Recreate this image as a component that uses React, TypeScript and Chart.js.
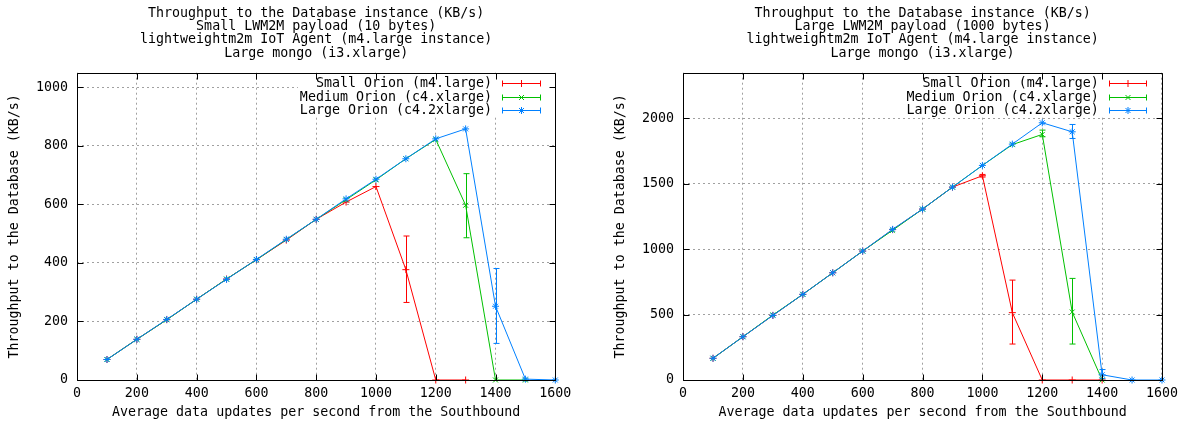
import React, { useEffect, useRef } from 'react';
import { Chart, registerables } from 'chart.js';
import { drawPoint } from 'chart.js/helpers';

Chart.register(...registerables);

const FONT = '"DejaVu Sans Mono", "Liberation Mono", monospace';
const FS = 13.3;

// ---------- data ----------
const xUpdates = [100, 200, 300, 400, 500, 600, 700, 800, 900, 1000, 1100, 1200, 1300, 1400, 1500, 1600];
const xTicks = [0, 200, 400, 600, 800, 1000, 1200, 1400, 1600];

const seriesLabels = ['Small Orion (m4.large)', 'Medium Orion (c4.xlarge)', 'Large Orion (c4.2xlarge)'];
const seriesColors = ['#ff0000', '#00c000', '#0080ff'];
const seriesMarkers = ['cross', 'crossRot', 'star'];

// Left chart: small payload (10 bytes)
const smallTitle = [
  'Throughput to the Database instance (KB/s)',
  'Small LWM2M payload (10 bytes)',
  'lightweightm2m IoT Agent (m4.large instance)',
  'Large mongo (i3.xlarge)',
];
const smallYTicks = [0, 200, 400, 600, 800, 1000];
const smallYMax = 1050;
const smallSmallOrion = [70, 139, 206, 276, 345, 411, 478, 549, 608, 661, 377, 0, 0];
const smallMediumOrion = [70, 139, 206, 276, 345, 411, 480, 549, 616, 684, 756, 822, 597, 0, 0];
const smallLargeOrion = [70, 139, 207, 276, 344, 412, 481, 549, 619, 686, 756, 824, 858, 252, 3, 0];
// error bars: [x, low, high]
const smallSmallOrionErr = [[1100, 265, 492]];
const smallMediumOrionErr = [[1300, 486, 705]];
const smallLargeOrionErr = [[1400, 125, 381]];

// Right chart: large payload (1000 bytes)
const largeTitle = [
  'Throughput to the Database instance (KB/s)',
  'Large LWM2M payload (1000 bytes)',
  'lightweightm2m IoT Agent (m4.large instance)',
  'Large mongo (i3.xlarge)',
];
const largeYTicks = [0, 500, 1000, 1500, 2000];
const largeYMax = 2350;
const largeSmallOrion = [166, 331, 494, 655, 820, 986, 1150, 1307, 1475, 1562, 515, 0, 0, 0];
const largeMediumOrion = [166, 331, 497, 655, 820, 986, 1145, 1307, 1475, 1641, 1800, 1878, 520, 0];
const largeLargeOrion = [166, 331, 494, 655, 820, 986, 1152, 1307, 1475, 1641, 1804, 1967, 1898, 40, 0, 0];
const largeSmallOrionErr = [[1000, 1552, 1572], [1100, 275, 764]];
const largeMediumOrionErr = [[1200, 1860, 1911], [1300, 275, 777]];
const largeLargeOrionErr = [[1300, 1847, 1954], [1400, 10, 80]];

const xAxisTitle = 'Average data updates per second from the Southbound';
const yAxisTitle = 'Throughput to the Database (KB/s)';

// ---------- plugins ----------
const keyBoxPlugin = {
  id: 'gpKeyBox',
  beforeDatasetsDraw(chart: any) {
    const { ctx, chartArea } = chart;
    ctx.save();
    ctx.font = `${FS}px ${FONT}`;
    let w = 0;
    chart.data.datasets.forEach((ds: any) => { w = Math.max(w, ctx.measureText(ds.label).width); });
    const left = chartArea.right - 63.3 - w - 2;
    ctx.fillStyle = '#ffffff';
    ctx.fillRect(left, chartArea.top + 1, chartArea.right - left - 1, 43);
    ctx.restore();
  },
};

const errorBarPlugin = {
  id: 'gpErrorBars',
  afterDatasetsDraw(chart: any) {
    const { ctx } = chart;
    const xs = chart.scales.x, ys = chart.scales.y;
    ctx.save();
    ctx.lineWidth = 1;
    chart.data.datasets.forEach((ds: any) => {
      ctx.strokeStyle = ds.borderColor;
      (ds.errorBars || []).forEach((e: number[]) => {
        const px = Math.round(xs.getPixelForValue(e[0])) + 0.5;
        const lo = ys.getPixelForValue(e[1]);
        const hi = ys.getPixelForValue(e[2]);
        ctx.beginPath();
        ctx.moveTo(px, lo); ctx.lineTo(px, hi);
        ctx.moveTo(px - 3, lo); ctx.lineTo(px + 3, lo);
        ctx.moveTo(px - 3, hi); ctx.lineTo(px + 3, hi);
        ctx.stroke();
      });
    });
    ctx.restore();
  },
};

const frameAndKeyPlugin = {
  id: 'gpFrameKey',
  afterDatasetsDraw(chart: any) {
    const { ctx, chartArea } = chart;
    const xs = chart.scales.x, ys = chart.scales.y;
    const L = Math.round(chartArea.left) + 0.5, R = Math.round(chartArea.right) + 0.5;
    const T = Math.round(chartArea.top) + 0.5, B = Math.round(chartArea.bottom) + 0.5;
    ctx.save();
    // key
    ctx.font = `${FS}px ${FONT}`;
    ctx.textAlign = 'right';
    ctx.textBaseline = 'middle';
    chart.data.datasets.forEach((ds: any, i: number) => {
      const y = Math.round(chartArea.top + 10.6 + i * 13.3) + 0.5;
      ctx.fillStyle = '#000';
      ctx.fillText(ds.label, chartArea.right - 63.3, y);
      const x0 = Math.round(chartArea.right - 53.3) + 0.5, x1 = Math.round(chartArea.right - 15.7) + 0.5;
      ctx.strokeStyle = ds.borderColor;
      ctx.lineWidth = 1;
      ctx.beginPath();
      ctx.moveTo(x0, y); ctx.lineTo(x1, y);
      ctx.moveTo(x0, y - 3); ctx.lineTo(x0, y + 3);
      ctx.moveTo(x1, y - 3); ctx.lineTo(x1, y + 3);
      ctx.stroke();
      drawPoint(ctx, { pointStyle: ds.pointStyle, radius: ds.pointRadius, borderWidth: 1, rotation: 0 }, (x0 + x1) / 2, y);
    });
    // frame with inward ticks
    ctx.strokeStyle = '#000';
    ctx.lineWidth = 1;
    ctx.beginPath();
    ctx.rect(L, T, R - L, B - T);
    xs.ticks.forEach((t: any) => {
      const px = Math.round(xs.getPixelForValue(t.value)) + 0.5;
      ctx.moveTo(px, B); ctx.lineTo(px, B - 6);
      ctx.moveTo(px, T); ctx.lineTo(px, T + 6);
    });
    ys.ticks.forEach((t: any) => {
      const py = Math.round(ys.getPixelForValue(t.value)) + 0.5;
      ctx.moveTo(L, py); ctx.lineTo(L + 6, py);
      ctx.moveTo(R, py); ctx.lineTo(R - 6, py);
    });
    ctx.stroke();
    ctx.restore();
  },
};

function makeDatasets(values: number[][], errs: number[][][]) {
  return values.map((vals, i) => ({
    label: seriesLabels[i],
    data: vals.map((v, j) => ({ x: xUpdates[j], y: v })),
    borderColor: seriesColors[i],
    backgroundColor: seriesColors[i],
    borderWidth: 1,
    pointStyle: seriesMarkers[i],
    pointRadius: 3.5,
    pointBorderWidth: 1,
    pointHoverRadius: 3.5,
    tension: 0,
    fill: false,
    clip: 4,
    order: values.length - 1 - i,
    errorBars: errs[i],
  }));
}

const tickFont = { family: FONT, size: FS, lineHeight: 1.2 };

function makeConfig(title: string[], yTicks: number[], yMax: number, values: number[][], errs: number[][][], padLeft: number, padRight: number) {
  return {
    type: 'line',
    data: { datasets: makeDatasets(values, errs) },
    plugins: [keyBoxPlugin, errorBarPlugin, frameAndKeyPlugin],
    options: {
      animation: false,
      responsive: false,
      events: [],
      layout: { padding: { left: padLeft, right: padRight, top: 0, bottom: 0 } },
      plugins: {
        legend: { display: false },
        tooltip: { enabled: false },
        title: {
          display: true,
          text: title,
          fullSize: false,
          color: '#000',
          font: { family: FONT, size: FS, weight: 'normal', lineHeight: 1 },
          padding: { top: 6.5, bottom: 13 },
        },
      },
      scales: {
        x: {
          type: 'linear',
          min: 0,
          max: 1600,
          afterBuildTicks: (s: any) => { s.ticks = xTicks.map((v) => ({ value: v })); },
          afterFit: (s: any) => { s.height = 45; },
          ticks: { color: '#000', padding: 6, font: tickFont, callback: (v: any) => String(v) },
          grid: { color: '#a0a0a0', drawTicks: false, lineWidth: 1 },
          border: { display: false, dash: [2, 3] },
          title: {
            display: true,
            text: xAxisTitle,
            color: '#000',
            font: tickFont,
            padding: { top: 4, bottom: 4 },
          },
        },
        y: {
          type: 'linear',
          min: 0,
          max: yMax,
          afterBuildTicks: (s: any) => { s.ticks = yTicks.map((v) => ({ value: v })); },
          afterFit: (s: any) => { s.width = 74.1; },
          ticks: { color: '#000', padding: 9, font: tickFont, callback: (v: any) => String(v) },
          grid: { color: '#a0a0a0', drawTicks: false, lineWidth: 1 },
          border: { display: false, dash: [2, 3] },
          title: {
            display: true,
            text: yAxisTitle,
            color: '#000',
            font: tickFont,
            padding: { top: 4, bottom: 12 },
          },
        },
      },
    },
  };
}

function GpChart(props: { config: any; left: number }) {
  const ref = useRef<HTMLCanvasElement | null>(null);
  useEffect(() => {
    if (!ref.current) return;
    const chart = new Chart(ref.current, props.config);
    return () => chart.destroy();
  }, []);
  return (
    <div style={{ position: 'absolute', left: props.left, top: 0, width: 592, height: 425 }}>
      <canvas ref={ref} width={592} height={425} style={{ width: 592, height: 425, display: 'block' }} />
    </div>
  );
}

export default function App() {
  const leftCfg = makeConfig(
    smallTitle, smallYTicks, smallYMax,
    [smallSmallOrion, smallMediumOrion, smallLargeOrion],
    [smallSmallOrionErr, smallMediumOrionErr, smallLargeOrionErr],
    3, 36.7,
  );
  const rightCfg = makeConfig(
    largeTitle, largeYTicks, largeYMax,
    [largeSmallOrion, largeMediumOrion, largeLargeOrion],
    [largeSmallOrionErr, largeMediumOrionErr, largeLargeOrionErr],
    17, 22,
  );
  return (
    <div style={{ position: 'fixed', left: 0, top: 0, width: 1184, height: 425, background: '#fff', overflow: 'hidden' }}>
      <GpChart config={leftCfg} left={0} />
      <GpChart config={rightCfg} left={592} />
    </div>
  );
}
